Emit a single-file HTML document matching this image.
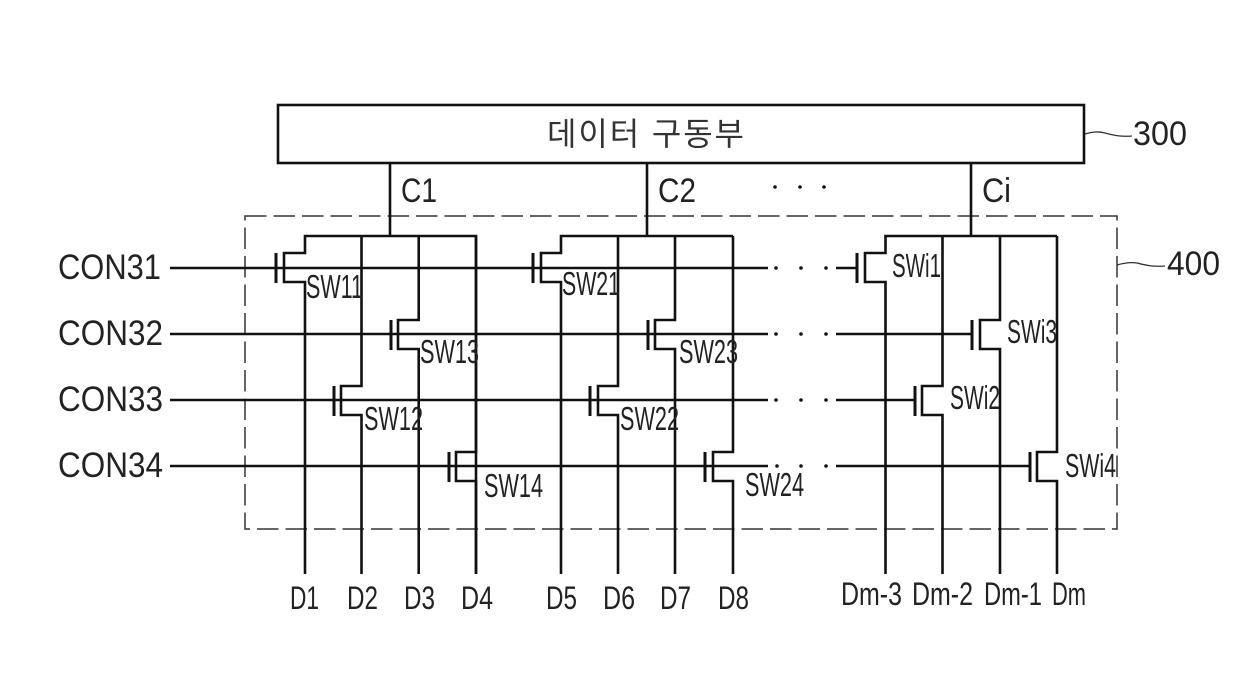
<!DOCTYPE html>
<html><head><meta charset="utf-8"><style>
html,body{margin:0;padding:0;background:#fff}
svg{display:block}
text{font-family:"Liberation Sans","Noto Sans CJK KR",sans-serif;fill:#222}
.w{stroke:#111;stroke-width:2.6;fill:none}
.g{stroke:#111;stroke-width:3;fill:none}
.d{stroke:#333;stroke-width:1.5;fill:none;stroke-dasharray:21.5 7}
.s{font-size:33px}
.t{font-size:32px}
.b{font-size:35px}
.l{font-size:34px}
</style></head><body>
<svg width="1240" height="676" viewBox="0 0 1240 676" xmlns="http://www.w3.org/2000/svg">
<rect x="278" y="105" width="806" height="58" class="w" stroke-width="3"/>
<text x="547" y="145" font-size="32" textLength="197" lengthAdjust="spacing" style="fill:#333">데이터 구동부</text>
<path d="M1085 134 C1092 132,1098 131,1105 133 C1113 135,1120 137,1132 136" stroke="#333" stroke-width="1.3" fill="none"/>
<text x="1133" y="145" class="l" textLength="54" lengthAdjust="spacingAndGlyphs">300</text>
<path d="M1117 265 C1124 263,1130 262,1137 263 C1145 265,1152 267,1165 266" stroke="#333" stroke-width="1.3" fill="none"/>
<text x="1167" y="275" class="l" textLength="53" lengthAdjust="spacingAndGlyphs">400</text>

<rect x="245" y="216" width="872" height="313" class="d"/>

<path class="w" d="M390 163V236M647 163V236M971 163V236"/>
<text x="401" y="202" class="l" textLength="36" lengthAdjust="spacingAndGlyphs">C1</text>
<text x="658" y="202" class="l" textLength="38" lengthAdjust="spacingAndGlyphs">C2</text>
<text x="982" y="202" class="l" textLength="29" lengthAdjust="spacingAndGlyphs">Ci</text>
<g fill="#111"><circle cx="775" cy="187" r="1.8"/><circle cx="800" cy="187" r="1.8"/><circle cx="824" cy="187" r="1.8"/></g>

<!-- control lines -->
<path class="w" d="M170 268H768M836 268H857M170 334H768M836 334H972M170 400H768M836 400H915M170 466H768M836 466H1030"/>
<g fill="#111">
<circle cx="776" cy="268" r="1.8"/><circle cx="801" cy="268" r="1.8"/><circle cx="826" cy="268" r="1.8"/>
<circle cx="776" cy="334" r="1.8"/><circle cx="801" cy="334" r="1.8"/><circle cx="826" cy="334" r="1.8"/>
<circle cx="776" cy="400" r="1.8"/><circle cx="801" cy="400" r="1.8"/><circle cx="826" cy="400" r="1.8"/>
<circle cx="777" cy="466" r="1.8"/><circle cx="801" cy="466" r="1.8"/><circle cx="826" cy="466" r="1.8"/>
</g>

<!-- group 1 -->
<path class="w" d="M476 574V236H305V253H284V282H305V574"/>
<path class="w" d="M361.5 236V386H341V415H361.5V574"/>
<path class="w" d="M418.7 236V320H398V349H418.7V574"/>
<path class="w" d="M476 236V452H456V481H476V574"/>
<path class="g" d="M276 253V283M334 386V416M391 320V350M449 452V482"/>
<!-- group 2 -->
<path class="w" d="M733 236H561V253H541V282H561V574"/>
<path class="w" d="M618 236V386H598V415H618V574"/>
<path class="w" d="M675 236V320H655V349H675V574"/>
<path class="w" d="M733 236V452H713V481H733V574"/>
<path class="g" d="M533 253V283M590 386V416M648 320V350M705 452V482"/>
<!-- group 3 -->
<path class="w" d="M1057 236H885.5V253H865V282H885.5V574"/>
<path class="w" d="M942.5 236V386H922V415H942.5V574"/>
<path class="w" d="M1000 236V320H980V349H1000V574"/>
<path class="w" d="M1057 236V452H1037V481H1057V574"/>
<path class="g" d="M857 253V283M915 386V416M972 320V350M1030 452V482"/>

<g class="b">
<text x="58" y="279" textLength="103" lengthAdjust="spacingAndGlyphs">CON31</text>
<text x="58" y="345" textLength="105" lengthAdjust="spacingAndGlyphs">CON32</text>
<text x="58" y="411" textLength="105" lengthAdjust="spacingAndGlyphs">CON33</text>
<text x="58" y="477" textLength="105" lengthAdjust="spacingAndGlyphs">CON34</text>
</g>
<g class="s">
<text x="306" y="298" textLength="57" lengthAdjust="spacingAndGlyphs">SW11</text>
<text x="420" y="363" textLength="59" lengthAdjust="spacingAndGlyphs">SW13</text>
<text x="364" y="430" textLength="59" lengthAdjust="spacingAndGlyphs">SW12</text>
<text x="484" y="497" textLength="59" lengthAdjust="spacingAndGlyphs">SW14</text>
<text x="562" y="295" textLength="58" lengthAdjust="spacingAndGlyphs">SW21</text>
<text x="679" y="363" textLength="59" lengthAdjust="spacingAndGlyphs">SW23</text>
<text x="620" y="430" textLength="59" lengthAdjust="spacingAndGlyphs">SW22</text>
<text x="745" y="496" textLength="59" lengthAdjust="spacingAndGlyphs">SW24</text>
<text x="892" y="277" textLength="49" lengthAdjust="spacingAndGlyphs">SWi1</text>
<text x="1007" y="343" textLength="50" lengthAdjust="spacingAndGlyphs">SWi3</text>
<text x="950" y="409" textLength="50" lengthAdjust="spacingAndGlyphs">SWi2</text>
<text x="1065" y="477" textLength="51" lengthAdjust="spacingAndGlyphs">SWi4</text>
</g>
<g class="t">
<text x="290" y="609" textLength="29" lengthAdjust="spacingAndGlyphs">D1</text>
<text x="347" y="609" textLength="31" lengthAdjust="spacingAndGlyphs">D2</text>
<text x="404" y="609" textLength="31" lengthAdjust="spacingAndGlyphs">D3</text>
<text x="461" y="609" textLength="32" lengthAdjust="spacingAndGlyphs">D4</text>
<text x="546" y="609" textLength="31" lengthAdjust="spacingAndGlyphs">D5</text>
<text x="603" y="609" textLength="32" lengthAdjust="spacingAndGlyphs">D6</text>
<text x="660" y="609" textLength="31" lengthAdjust="spacingAndGlyphs">D7</text>
<text x="718" y="609" textLength="31" lengthAdjust="spacingAndGlyphs">D8</text>
<text x="841" y="605" textLength="61" lengthAdjust="spacingAndGlyphs">Dm-3</text>
<text x="912" y="605" textLength="61" lengthAdjust="spacingAndGlyphs">Dm-2</text>
<text x="984" y="605" textLength="58" lengthAdjust="spacingAndGlyphs">Dm-1</text>
<text x="1052" y="605" textLength="34" lengthAdjust="spacingAndGlyphs">Dm</text>
</g>
</svg>
</body></html>
